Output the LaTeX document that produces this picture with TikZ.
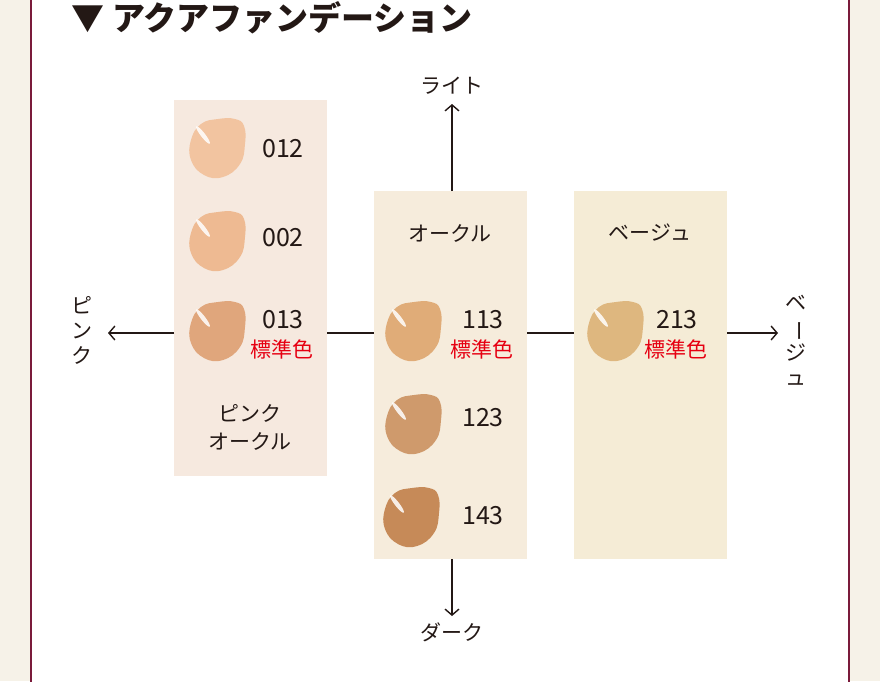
\documentclass[tikz,border=0pt]{standalone}
\usepackage{fontspec}
\usepackage{graphicx}
\setmainfont{Noto Sans CJK JP}
\definecolor{outer}{HTML}{F6F2E8}
\definecolor{frame}{HTML}{7A1A3A}
\definecolor{pinkbg}{HTML}{F6E9DF}
\definecolor{ochrebg}{HTML}{F6ECDC}
\definecolor{beigebg}{HTML}{F5ECD6}
\definecolor{ink}{HTML}{231815}
\definecolor{stdred}{HTML}{E60012}
\newcommand{\drop}[3]{%
  \definecolor{dropcol}{HTML}{#3}%
  \fill[dropcol, shift={(#1,#2)}] plot[smooth cycle, tension=0.75] coordinates
    {(0,-29) (17,-29) (26,-22) (27,-4) (22,16) (5,29) (-14,27) (-27,12) (-27,-8) (-17,-24)};
  \fill[white,opacity=0.85,rotate around={-52:(#1-15,#2-13)}] (#1-15,#2-13) ellipse (11 and 2.2);}
\usetikzlibrary{arrows.meta}
\tikzset{
  num/.style={font=\fontsize{25}{25}\selectfont, text=ink},
  std/.style={font=\fontsize{21}{21}\selectfont, text=stdred},
  lbl/.style={font=\fontsize{21}{24}\selectfont, text=ink, align=center},
  axis/.style={draw=ink, line width=1.4pt},
  tip/.style={axis, -{Straight Barb[length=6pt,width=14pt]}}
}
\begin{document}
\begin{tikzpicture}[x=1pt,y=-1pt]
\useasboundingbox (0,0) rectangle (880,681);
% background and frame
\fill[outer] (0,0) rectangle (880,681);
\fill[white] (31,-2) rectangle (849,683);
\draw[frame, line width=1.5pt] (31,-2) -- (31,683) (849,-2) -- (849,683);
\node[anchor=west, font=\bfseries\fontsize{33}{33}\selectfont, text=ink] (title) at (68,18) {▼ アクアファンデーション};

% boxes
\fill[pinkbg] (174,100) rectangle (327,476);
\fill[ochrebg] (374,191) rectangle (527,559);
\fill[beigebg] (574,191) rectangle (727,559);
\coordinate (pinkL) at (174,333);
\coordinate (pinkR) at (327,333);
\coordinate (ochreL) at (374,333);
\coordinate (ochreR) at (527,333);
\coordinate (ochreT) at (452,191);
\coordinate (ochreB) at (452,559);
\coordinate (beigeL) at (574,333);
\coordinate (beigeR) at (727,333);
\coordinate (leftend) at (108,333);
\coordinate (rightend) at (778,333);
\coordinate (topend) at (452,104);
\coordinate (botend) at (452,616);

% axes
\draw[tip] (pinkL) -- (leftend);
\draw[tip] (beigeR) -- (rightend);
\draw[tip] (ochreT) -- (topend);
\draw[tip] (ochreB) -- (botend);
\draw[axis] (pinkR) -- (ochreL) (ochreR) -- (beigeL);

% axis labels
\node[lbl] (light) at (452,86) {ライト};
\node[lbl] (dark) at (452,632) {ダーク};
\node[lbl, font=\fontsize{21}{25}\selectfont] (pinkax) at (82,330) {ピ\\ン\\ク};
\node[lbl, font=\fontsize{21}{25}\selectfont] (beigeax) at (796,340) {ベ\\\rotatebox[origin=c]{-90}{ー}\\ジ\\ュ};

% box labels
\node[lbl] (ochrename) at (450,233) {オークル};
\node[lbl] (beigename) at (650,233) {ベージュ};
\node[lbl, font=\fontsize{21}{28}\selectfont] (pinkname) at (250,427) {ピンク\\オークル};

% drops
\drop{218}{148}{F2C4A0}
\drop{218}{241}{EEBA92}
\drop{218}{331}{E0A67C}
\drop{414}{331}{E0AC78}
\drop{414}{424}{CF9A6C}
\drop{412}{517}{C68A58}
\drop{616}{331}{DEB77F}

% shade numbers
\node[num] (s012) at (283,149) {012};
\node[num] (s002) at (283,238) {002};
\node[num] (s013) at (283,320) {013};
\node[std] (std013) at (282,349) {標準色};
\node[num] (s113) at (483,320) {113};
\node[std] (std113) at (482,349) {標準色};
\node[num] (s123) at (483,418) {123};
\node[num] (s143) at (483,516) {143};
\node[num] (s213) at (677,320) {213};
\node[std] (std213) at (676,349) {標準色};
\end{tikzpicture}
\end{document}
